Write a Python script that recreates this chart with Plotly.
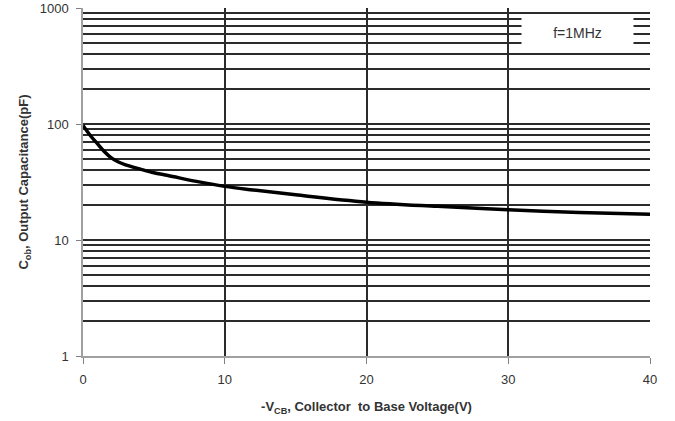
import plotly.graph_objects as go

vcb = [0, 0.5, 1, 1.5, 2, 2.5, 3, 4, 5, 6, 8, 10, 12, 15, 20, 25, 30, 35, 40]
cob = [97, 80, 68, 58, 51, 47, 44.5, 41, 38, 36, 32, 29, 27, 24.5, 21.2, 19.5, 18.2, 17.3, 16.7]

y_major = [1, 10, 100, 1000]
y_major_labels = ["1", "10", "100", "1000"]
y_minor = [m * d for d in (1, 10, 100) for m in range(2, 10)]
x_ticks = [0, 10, 20, 30, 40]

fig = go.Figure()
fig.add_trace(go.Scatter(x=vcb, y=cob, mode="lines", line=dict(color="black", width=3.5, shape="spline"),
                         showlegend=False, hoverinfo="skip"))

font = "Liberation Sans, Arial, sans-serif"
title_font = dict(size=13, color="#333333", family="Liberation Sans, Arial")
fig.update_layout(
    width=675, height=421,
    margin=dict(l=83, r=25, t=8, b=65, autoexpand=False),
    paper_bgcolor="white", plot_bgcolor="white",
    font=dict(family=font, size=13, color="#333333"),
    xaxis=dict(range=[0, 40], tickvals=x_ticks, showgrid=True, gridcolor="#2b2b2b", gridwidth=1.5,
               showline=True, linecolor="#a0a0a0", linewidth=1.5, ticks="outside", ticklen=6,
               tickcolor="#808080", zeroline=False, tickfont=dict(size=13, color="#333333"),
               automargin=False, ticklabelstandoff=5,
               title=dict(text="<b>-V<sub>CB</sub>, Collector  to Base Voltage(V)</b>",
                          font=title_font, standoff=16)),
    yaxis=dict(type="log", range=[0, 3], tickvals=y_major, ticktext=y_major_labels, showgrid=True,
               gridcolor="#2b2b2b", gridwidth=1.5, showline=True, linecolor="#a0a0a0", linewidth=1.5,
               ticks="outside", ticklen=5, tickcolor="#808080", zeroline=False,
               tickfont=dict(size=13, color="#333333"), automargin=False, ticklabelstandoff=5,
               minor=dict(tickvals=y_minor, showgrid=True, gridcolor="#2b2b2b", gridwidth=1.5, ticks=""),
               title=dict(text="<b>C<sub>ob</sub>, Output Capacitance(pF)</b>",
                          font=title_font, standoff=8)),
)
fig.add_annotation(xref="paper", yref="paper", x=0.872, y=0.927, xanchor="center", yanchor="middle",
                   text="f=1MHz", showarrow=False,
                   bgcolor="white", width=109, height=30, font=dict(size=14, color="#333333"))
fig.write_html("out.html", config={"displayModeBar": False},
               post_script="document.body.style.margin='0';")
